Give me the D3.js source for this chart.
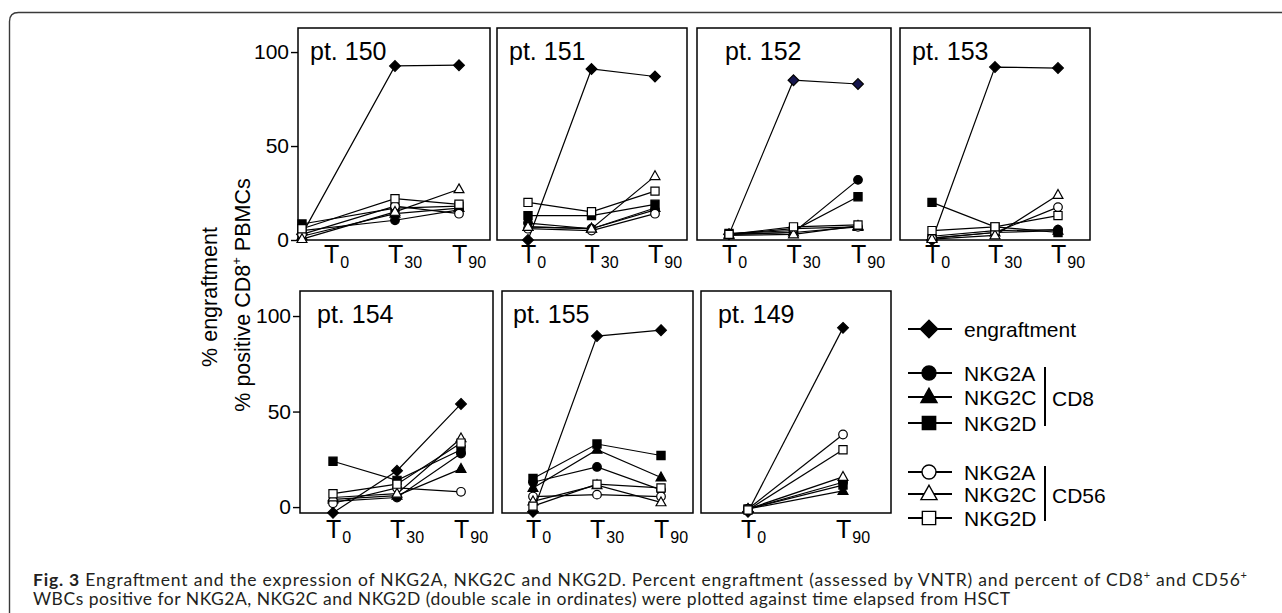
<!DOCTYPE html>
<html><head><meta charset="utf-8">
<script src="https://cdn.jsdelivr.net/npm/d3@7"></script>
<style>html,body{margin:0;padding:0;background:#fff;} svg{display:block;}</style>
</head><body><svg id="c" width="1282" height="613"></svg>
<script>
// ---------- DATA ----------
const timepoints = ["T0", "T30", "T90"];
const patients = ["pt. 150", "pt. 151", "pt. 152", "pt. 153", "pt. 154", "pt. 155", "pt. 149"];
const seriesNames = ["engraftment", "NKG2A", "NKG2C", "NKG2D", "NKG2A", "NKG2C", "NKG2D"];
const seriesGroups = ["", "CD8", "CD8", "CD8", "CD56", "CD56", "CD56"];
const yTicks = [0, 50, 100];
// rows: engraftment, CD8 NKG2A, CD8 NKG2C, CD8 NKG2D, CD56 NKG2A, CD56 NKG2C, CD56 NKG2D  (values at T0, T30, T90)
const pt150 = [[3, 92.6, 93], [5, 10.5, 16], [2, 14, 17], [8.5, 17, 18], [3, 18, 14], [0.5, 15, 27], [6, 22, 19]];
const pt151 = [[0, 91, 87], [9, 6, 16], [7, 6, 17], [13, 13, 19], [6, 5, 14], [7, 6, 34], [20, 15, 26]];
const pt152 = [[3, 85, 83], [3, 4, 32], [3, 4, 7], [3.5, 5, 23], [3, 6, 7], [2.5, 3, 7.5], [3, 7, 8]];
const pt153 = [[0, 92, 91.5], [2, 5, 5.5], [1, 4, 5], [20, 7, 4], [1, 4, 17.5], [0.5, 2.5, 24], [5, 7, 13]];
const pt154 = [[-3, 19, 54], [3, 5, 28], [4, 6, 20], [24, 14, 30], [2, 10, 8], [5, 7, 36], [7, 12, 33.5]];
const pt155 = [[-2.5, 89.5, 92.6], [13, 21, 9], [10, 30, 15.5], [15, 33, 27], [5.5, 6.5, 5.5], [3, 11.5, 2.5], [0.5, 12, 10]];
const pt149 = [[-2.5, null, 93.8], [-1, null, 13], [-1, null, 8.5], [-1, null, 11.5], [-1, null, 38], [-1, null, 15.8], [-1.5, null, 30]];
const patientValues = [pt150, pt151, pt152, pt153, pt154, pt155, pt149];
const patientTimepoints = [timepoints, timepoints, timepoints, timepoints, timepoints, timepoints, ["T0", "T90"]];

// ---------- STYLE / LAYOUT ----------
const shapes = ["diamond", "circle", "triangle", "square", "circle", "triangle", "square"];
const fills = ["#000", "#000", "#000", "#000", "#fff", "#fff", "#fff"];
const FONT = "'Liberation Sans', Arial, Helvetica, sans-serif";
const rows = [
  {top: 28, bottom: 240, domain: [0, 112.8], labelDy: 23},
  {top: 291, bottom: 513, domain: [-3.1, 113.1], labelDy: 25}
];
const layout = [
  {row: 0, x0: 298, x1: 490, range: [331, 459], titleDx: 12, shift0: -29, yAxis: true},
  {row: 0, x0: 497, x1: 687, range: [528, 655], titleDx: 12},
  {row: 0, x0: 697, x1: 891, range: [729, 858], titleDx: 28, engFill: "#16164e"},
  {row: 0, x0: 900, x1: 1090, range: [932, 1058], titleDx: 12},
  {row: 1, x0: 300, x1: 493, range: [333, 461], titleDx: 17, yAxis: true},
  {row: 1, x0: 502, x1: 693, range: [533, 661], titleDx: 11},
  {row: 1, x0: 701, x1: 891, range: [748, 843], titleDx: 17}
];

function shapePath(type, s) {
  switch (type) {
    case "diamond": return `M0,${-s*1.25}L${s*1.25},0L0,${s*1.25}L${-s*1.25},0Z`;
    case "circle": return d3.arc()({innerRadius: 0, outerRadius: s, startAngle: 0, endAngle: 2 * Math.PI});
    case "square": return `M${-s*0.95},${-s*0.95}H${s*0.95}V${s*0.95}H${-s*0.95}Z`;
    case "triangle": return `M0,${-s*1.25}L${s*1.15},${s*0.8}L${-s*1.15},${s*0.8}Z`;
  }
}

const svg = d3.select("#c");
svg.append("rect").attr("width", 1282).attr("height", 613).attr("fill", "#fff");

// figure border (top + left, rounded corner)
svg.append("path")
  .attr("d", "M9.5,613V21.5Q9.5,12.5 18.5,12.5H1282")
  .attr("fill", "none").attr("stroke", "#3a3a3a").attr("stroke-width", 1.4);

patients.forEach((name, pi) => {
  const L = layout[pi], R = rows[L.row];
  const g = svg.append("g");
  const y = d3.scaleLinear().domain(R.domain).range([R.bottom, R.top]);
  const x = d3.scalePoint().domain(patientTimepoints[pi]).range(L.range);
  const px = t => x(t) + (t === "T0" && L.shift0 ? L.shift0 : 0);

  // frame
  g.append("rect").attr("x", L.x0).attr("y", R.top)
    .attr("width", L.x1 - L.x0).attr("height", R.bottom - R.top)
    .attr("fill", "none").attr("stroke", "#000").attr("stroke-width", 1.5);

  // y axis
  if (L.yAxis) {
    const ya = g.append("g").attr("transform", `translate(${L.x0},0)`)
      .call(d3.axisLeft(y).tickValues(yTicks).tickSize(7).tickPadding(2));
    ya.select(".domain").remove();
    ya.selectAll(".tick line").attr("stroke", "#000").attr("stroke-width", 1.4);
    ya.selectAll(".tick text").attr("font-family", FONT).attr("font-size", 21).attr("fill", "#000");
  }

  // x axis
  const xa = g.append("g").attr("transform", `translate(0,${R.bottom})`)
    .call(d3.axisBottom(x).tickSize(0).tickFormat(() => ""));
  xa.select(".domain").remove();
  xa.selectAll(".tick").each(function (t) {
    const tx = d3.select(this).append("text")
      .attr("x", -7.5).attr("y", R.labelDy).attr("text-anchor", "start")
      .attr("font-family", FONT).attr("fill", "#000");
    tx.append("tspan").attr("font-size", 25).text("T");
    tx.append("tspan").attr("font-size", 16).attr("dy", 5).attr("dx", 1).text(t.slice(1));
  });

  // title
  g.append("text").attr("x", L.x0 + L.titleDx).attr("y", R.top + 32)
    .attr("font-family", FONT).attr("font-size", 25).attr("fill", "#000").text(name);

  const vals = patientValues[pi];
  const seriesData = vals.map(arr => timepoints.map((t, i) => ({t, v: arr[i]})).filter(d => d.v != null && patientTimepoints[pi].includes(d.t)));

  const line = d3.line().x(d => px(d.t)).y(d => y(d.v));
  const drawOrder = [6, 5, 4, 3, 2, 1, 0];
  drawOrder.forEach(si => {
    g.append("path").datum(seriesData[si]).attr("d", line)
      .attr("fill", "none").attr("stroke", "#000").attr("stroke-width", 1.2);
  });
  [0, 1, 2, 3, 4, 5, 6].forEach(si => {
    g.selectAll(null).data(seriesData[si]).enter().append("path")
      .attr("d", shapePath(shapes[si], 4.3))
      .attr("transform", d => `translate(${px(d.t)},${y(d.v)})`)
      .attr("fill", si === 0 && L.engFill ? L.engFill : fills[si])
      .attr("stroke", "#000").attr("stroke-width", 1.2);
  });
});

// y title
const yt = svg.append("text").attr("transform", "translate(217,297) rotate(-90)")
  .attr("text-anchor", "middle").attr("font-family", FONT).attr("font-size", 21.5).attr("fill", "#000");
yt.append("tspan").attr("x", 0).attr("y", 0).text("% engraftment");
const yt2 = svg.append("text").attr("transform", "translate(250,295) rotate(-90)")
  .attr("text-anchor", "middle").attr("font-family", FONT).attr("font-size", 21.5).attr("fill", "#000");
yt2.append("tspan").text("% positive CD8");
yt2.append("tspan").attr("font-size", 13).attr("dy", -9).text("+");
yt2.append("tspan").attr("dy", 9).text(" PBMCs");

// legend
const legendY = [329, 373, 397, 423, 472, 494, 518];
const lg = svg.append("g");
seriesNames.forEach((n, i) => {
  const cy = legendY[i];
  lg.append("line").attr("x1", 908).attr("x2", 952).attr("y1", cy).attr("y2", cy)
    .attr("stroke", "#000").attr("stroke-width", 2);
  lg.append("path").attr("d", shapePath(shapes[i], 7))
    .attr("transform", `translate(929,${cy})`)
    .attr("fill", fills[i]).attr("stroke", "#000").attr("stroke-width", 1.4);
  lg.append("text").attr("x", 964).attr("y", cy + 7.5)
    .attr("font-family", FONT).attr("font-size", 21).attr("fill", "#000").text(n);
});
[["CD8", 1, 3], ["CD56", 4, 6]].forEach(([lab, a, b]) => {
  const y1 = legendY[a] - 6, y2 = legendY[b] + 3;
  lg.append("line").attr("x1", 1045).attr("x2", 1045).attr("y1", y1).attr("y2", y2)
    .attr("stroke", "#000").attr("stroke-width", 2);
  lg.append("text").attr("x", 1052).attr("y", (legendY[a] + legendY[b]) / 2 + 8)
    .attr("font-family", FONT).attr("font-size", 21).attr("fill", "#000").text(lab);
});

// caption
const CFONT = "Lato, 'Open Sans', sans-serif";
const c1 = svg.append("text").attr("x", 33).attr("y", 586)
  .attr("font-family", CFONT).attr("font-size", 17.5).attr("fill", "#231f20")
  .attr("textLength", 1214).attr("lengthAdjust", "spacing");
c1.append("tspan").attr("font-weight", "bold").text("Fig. 3");
c1.append("tspan").text(" Engraftment and the expression of NKG2A, NKG2C and NKG2D. Percent engraftment (assessed by VNTR) and percent of CD8");
c1.append("tspan").attr("font-size", 11).attr("dy", -7).text("+");
c1.append("tspan").attr("dy", 7).text(" and CD56");
c1.append("tspan").attr("font-size", 11).attr("dy", -7).text("+");
const c2 = svg.append("text").attr("x", 33).attr("y", 605)
  .attr("font-family", CFONT).attr("font-size", 17.5).attr("fill", "#231f20")
  .attr("textLength", 977).attr("lengthAdjust", "spacing")
  .text("WBCs positive for NKG2A, NKG2C and NKG2D (double scale in ordinates) were plotted against time elapsed from HSCT");
</script></body></html>
